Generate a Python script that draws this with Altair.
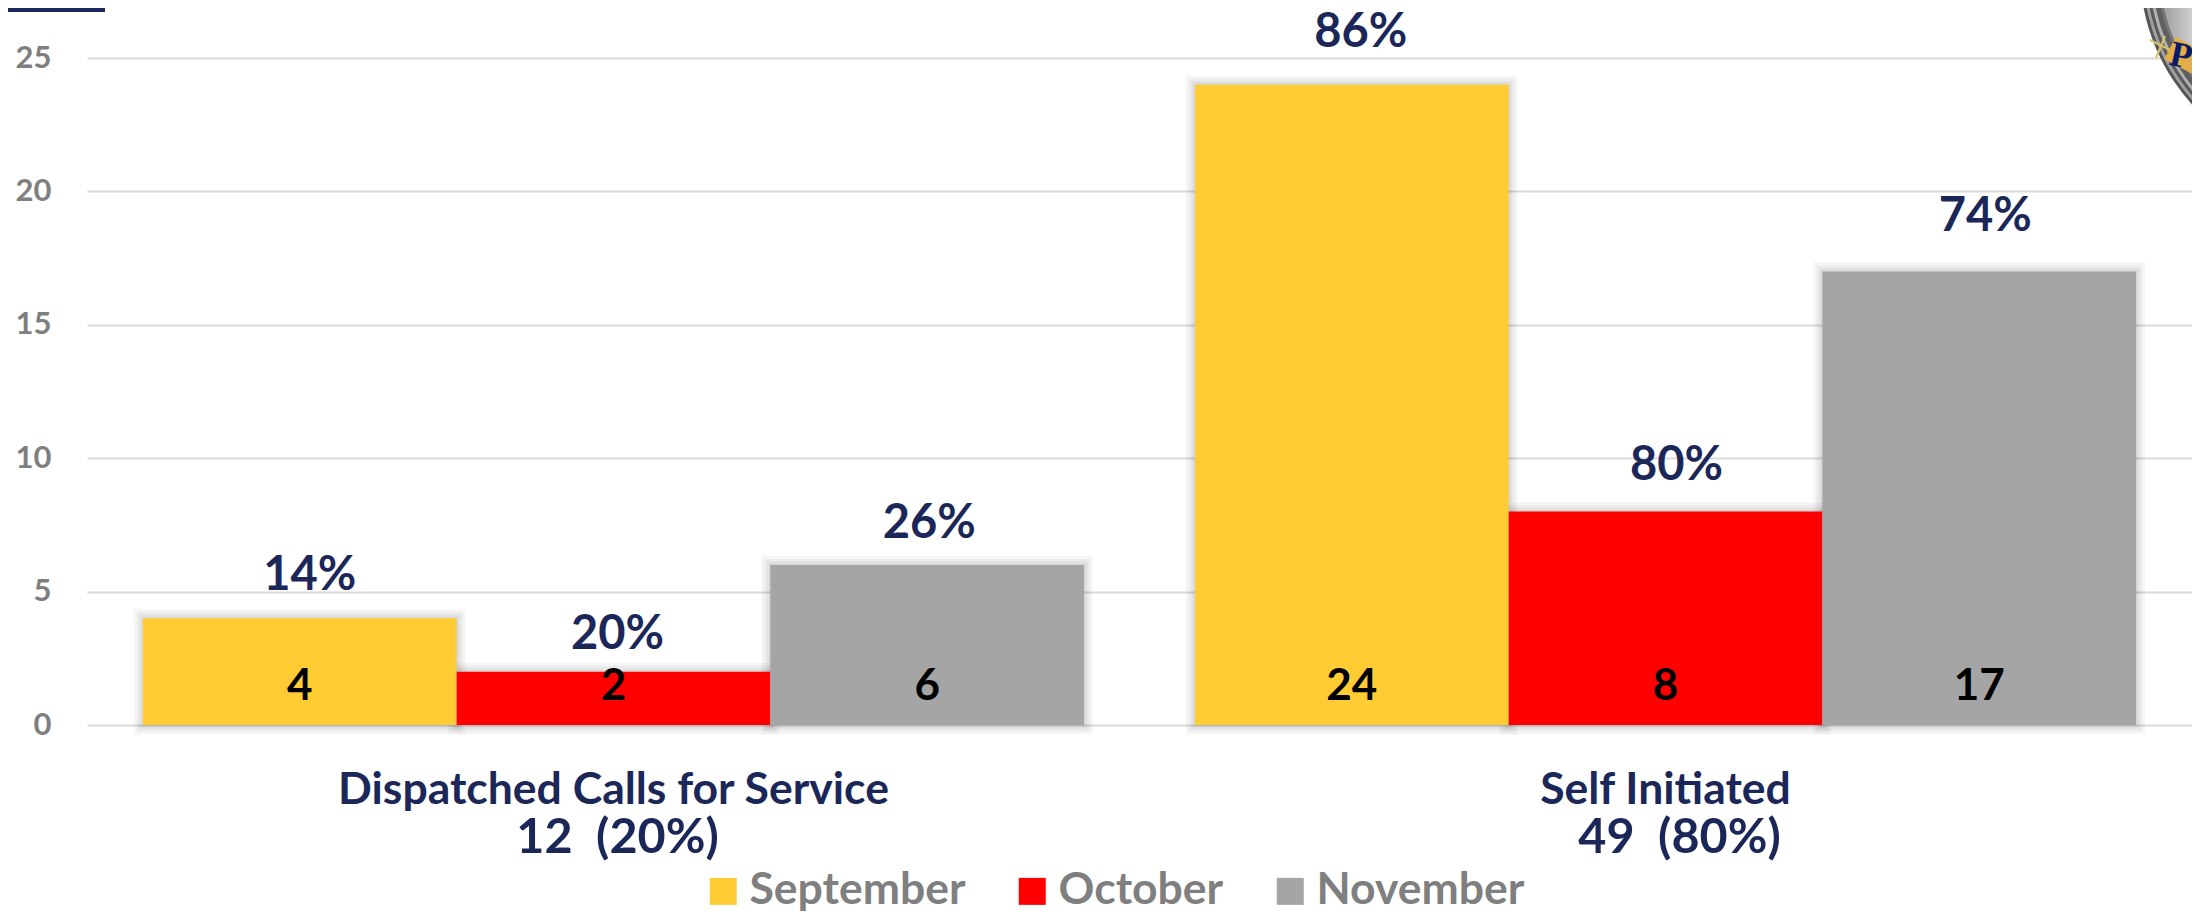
import altair as alt
import pandas as pd

groups = ["Dispatched Calls for Service", "Self Initiated"]
totals = ["12\u00a0\u00a0(20%)", "49\u00a0\u00a0(80%)"]
months = ["September", "October", "November"]
colors = ["#ffcc33", "#ff0000", "#a5a5a5"]
dispatched = [4, 2, 6]
self_initiated = [24, 8, 17]
dispatched_pct = ["14%", "20%", "26%"]
self_pct = ["86%", "80%", "74%"]

NAVY = "#1c2759"
GREY = "#7f7f7f"
FONT = "Lato"

rows = []
for g, vals, pcts in [(groups[0], dispatched, dispatched_pct), (groups[1], self_initiated, self_pct)]:
    for m, v, p in zip(months, vals, pcts):
        rows.append({"group": g, "month": m, "value": v, "pct": p})
df = pd.DataFrame(rows)
totals_df = pd.DataFrame({"group": groups, "total": totals})

x = alt.X("group:N", sort=groups, title=None,
          scale=alt.Scale(domain=groups, paddingInner=0.1055, paddingOuter=0.0532),
          axis=alt.Axis(labelAngle=0, labelFont=FONT, labelFontWeight="bold", labelFontSize=44.5,
                        labelColor=NAVY, labelPadding=43, labelBaseline="top", domain=False,
                        ticks=False, grid=False, labelLimit=900))
xo = alt.XOffset("month:N", sort=months, scale=alt.Scale(domain=months, paddingInner=0, paddingOuter=0))
y = alt.Y("value:Q", title=None, scale=alt.Scale(domain=[0, 25], nice=False),
          axis=alt.Axis(values=[0, 5, 10, 15, 20, 25], labelFont=FONT, labelFontWeight="bold",
                        labelFontSize=31, labelColor=GREY, labelPadding=36, domain=False, ticks=False,
                        grid=True, gridColor="#d9d9d9", gridWidth=2))

base = alt.Chart(df)
shadows = [
    base.mark_bar(fill="#000000", fillOpacity=0, stroke="#000000", strokeOpacity=0.04, strokeWidth=w)
    .encode(x=x, xOffset=xo, y=y)
    for w in (18, 12, 7, 3)
]
bars = base.mark_bar().encode(
    x=x, xOffset=xo, y=y,
    color=alt.Color("month:N", sort=months, scale=alt.Scale(domain=months, range=colors),
                    legend=alt.Legend(title=None, orient="none", direction="horizontal", legendX=614,
                                      legendY=811, symbolType="square", symbolSize=729,
                                      symbolStrokeWidth=0, labelFont=FONT, labelFontWeight="bold",
                                      labelFontSize=44.5, labelColor=GREY, columnPadding=44,
                                      labelOffset=4, labelLimit=400, symbolOpacity=1)),
)
counts = base.mark_text(font=FONT, fontWeight="bold", fontSize=44, color="#000000", dy=-38).encode(
    x=x, xOffset=xo, y=alt.datum(0), text="value:Q")
second_lines = [
    alt.Chart(totals_df.iloc[[i]]).mark_text(font=FONT, fontWeight="bold", fontSize=48.5, color=NAVY,
                                             dx=dx, dy=113).encode(x=x, y=alt.datum(0), text="total:N")
    for i, dx in enumerate((4, 14))
]

# per-label nudges above the bar tops (styling only)
nudges = [(10, -42), (4, -37), (2, -41), (9, -52), (11, -46), (6, -54)]
pct_layers = []
for i, (dx, dy) in enumerate(nudges):
    pct_layers.append(
        alt.Chart(df.iloc[[i]]).mark_text(font=FONT, fontWeight="bold", fontSize=47, color=NAVY, dx=dx, dy=dy)
        .encode(x=x, xOffset=xo, y=y, text="pct:N")
    )

# Decorations: corner badge and seal, clipped by the page edge
one = alt.Data(values=[{"k": 0}])
PX, PY = 87, 58


def disc(r, fill):
    return alt.Chart(one).mark_arc(radius=r, theta=0, theta2=6.2832, fill=fill).encode(
        x=alt.value(2340 - PX), y=alt.value(-30 - PY))


grad = alt.Gradient(gradient="linear", x1=0, x2=1, y1=0.5, y2=0.5,
                    stops=[alt.GradientStop(offset=0, color="#9a9a9a"),
                           alt.GradientStop(offset=0.14, color="#ececec"),
                           alt.GradientStop(offset=1, color="#ffffff")])
seal = [disc(200, "#555555"), disc(197, "#a0a0a0"), disc(194, "#5a5a5a"), disc(191, "#b0b0b0"),
        disc(188, "#5f5f5f"), disc(183, "#777777"), disc(180, grad)]


def line(x1, y1, x2, y2, color, width):
    return alt.Chart(one).mark_rule(color=color, strokeWidth=width, strokeCap="butt").encode(
        x=alt.value(x1 - PX), x2=alt.value(x2 - PX), y=alt.value(y1 - PY), y2=alt.value(y2 - PY))


ornaments = [
    line(2150, 40, 2170, 50, "#d9c26a", 2),
    line(2165, 36, 2156, 58, "#d9c26a", 2),
    line(2170, 48, 2204, 66, "#e3ad4a", 25),
    alt.Chart(one).mark_text(text="P", font="Liberation Serif", fontWeight="bold", fontSize=36,
                             color="#0a1a66", angle=12).encode(x=alt.value(2181 - PX), y=alt.value(56 - PY)),
    alt.Chart(one).mark_rect(color="#1c2759").encode(
        x=alt.value(-PX), x2=alt.value(105 - PX), y=alt.value(-PY), y2=alt.value(12 - PY)),
]

chart = alt.layer(*shadows, bars, counts, *second_lines, *pct_layers, *seal, *ornaments).properties(
    width=2105, height=667,
    autosize=alt.AutoSizeParams(type="none"),
    padding={"left": 79, "top": 50, "right": 0, "bottom": 188},
    background="#ffffff",
).configure_view(stroke=None)

chart.save("out.html", embed_options={"renderer": "svg", "actions": False})
